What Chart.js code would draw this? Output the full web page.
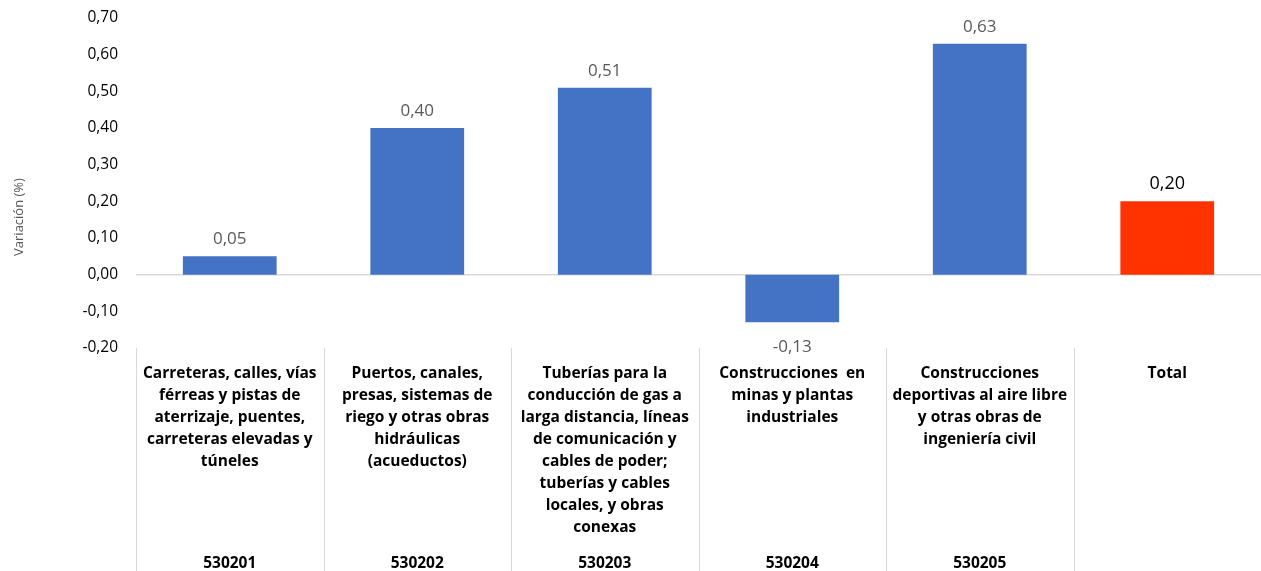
<!DOCTYPE html>
<html><head><meta charset="utf-8">
<script src="https://cdn.jsdelivr.net/npm/chart.js@4"></script>
<style>html,body{margin:0;padding:0;background:#fff}#wrap{width:1261px;height:571px}</style>
</head><body><div id="wrap"><canvas id="c"></canvas></div>
<script>
const categories = [
  ["Carreteras, calles, vías","férreas y pistas de","aterrizaje, puentes,","carreteras elevadas y","túneles"],
  ["Puertos, canales,","presas, sistemas de","riego y otras obras","hidráulicas","(acueductos)"],
  ["Tuberías para la","conducción de gas a","larga distancia, líneas","de comunicación y","cables de poder;","tuberías y cables","locales, y obras","conexas"],
  ["Construcciones  en","minas y plantas","industriales"],
  ["Construcciones","deportivas al aire libre","y otras obras de","ingeniería civil"],
  ["Total"]
];
const codes = ["530201","530202","530203","530204","530205",""];
const values = [0.05, 0.40, 0.51, -0.13, 0.63, 0.20];
const barColors = ["#4472C4","#4472C4","#4472C4","#4472C4","#4472C4","#FF3300"];
const yTitle = "Variación (%)";
const FONT = "'Open Sans', 'Noto Sans', sans-serif";
const fmt = v => (Math.abs(v) < 1e-9 ? 0 : v).toFixed(2).replace('.', ',');

const extras = {
  id: 'extras',
  afterDraw(chart) {
    const ctx = chart.ctx, x = chart.scales.x, ca = chart.chartArea;
    const n = categories.length;
    const w = (ca.right - ca.left) / n;
    ctx.save();
    ctx.strokeStyle = '#D9D9D9';
    ctx.lineWidth = 1;
    for (let i = 0; i < n; i++) {
      const px = Math.round(x.getPixelForValue(i) - w / 2) + 0.5;
      ctx.beginPath(); ctx.moveTo(px, ca.bottom); ctx.lineTo(px, chart.height); ctx.stroke();
    }
    ctx.translate(19, 217);
    ctx.rotate(-Math.PI / 2);
    ctx.fillStyle = '#595959';
    ctx.font = '13px ' + FONT;
    ctx.textAlign = 'center'; ctx.textBaseline = 'middle';
    ctx.fillText(yTitle, 0, 0);
    ctx.restore();
  },
  afterDatasetsDraw(chart) {
    const ctx = chart.ctx;
    const meta = chart.getDatasetMeta(0);
    ctx.save();
    ctx.textAlign = 'center'; ctx.textBaseline = 'middle';
    meta.data.forEach((el, i) => {
      const v = values[i];
      const last = i === values.length - 1;
      ctx.fillStyle = last ? '#000000' : '#595959';
      ctx.font = (last ? '18px ' : '17px ') + FONT;
      const y = v >= 0 ? el.y - 17 : el.y + 25;
      ctx.fillText(fmt(v), el.x, y);
    });
    ctx.restore();
  }
};

new Chart(document.getElementById('c'), {
  type: 'bar',
  data: {
    labels: categories,
    datasets: [{ data: values, backgroundColor: barColors, barPercentage: 1, categoryPercentage: 0.5 }]
  },
  options: {
    responsive: true, maintainAspectRatio: false, animation: false,
    layout: { padding: { top: 18, right: 0, left: 0, bottom: 0 } },
    plugins: { legend: { display: false }, tooltip: { enabled: false } },
    scales: {
      x: {
        position: 'bottom',
        grid: { display: false }, border: { display: false },
        ticks: { color: '#000', font: { family: FONT, size: 15.5, weight: 'bold', lineHeight: '22px' }, padding: 7, maxRotation: 0, autoSkip: false },
        afterFit(s) { s.height = 190; s.paddingTop = 0; s.paddingBottom = 0; }
      },
      x2: {
        type: 'category', position: 'bottom', labels: codes, offset: true,
        grid: { display: false }, border: { display: false },
        ticks: { color: '#000', font: { family: FONT, size: 15.5, weight: 'bold', lineHeight: '22px' }, padding: 7, maxRotation: 0, autoSkip: false },
        afterFit(s) { s.height = 33; s.paddingTop = 0; s.paddingBottom = 0; }
      },
      y: {
        min: -0.2, max: 0.7,
        border: { display: false },
        grid: { color: c => Math.abs(c.tick.value) < 1e-9 ? '#D9D9D9' : 'rgba(0,0,0,0)', lineWidth: 1.5, drawTicks: false },
        ticks: { stepSize: 0.1, color: '#000', font: { family: FONT, size: 15.5 }, padding: 18, callback: v => fmt(v) },
        afterFit(s) { s.width = 136; s.paddingTop = 0; s.paddingBottom = 0; }
      }
    }
  },
  plugins: [extras]
});
</script>
</body></html>
